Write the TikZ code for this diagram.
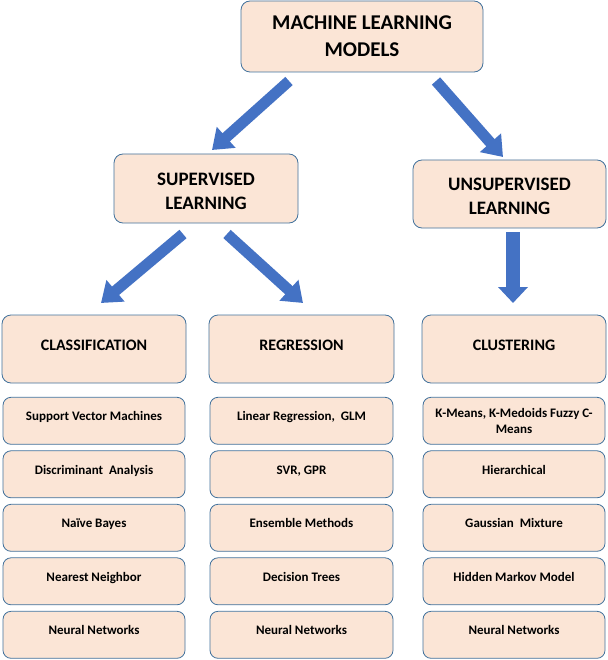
\documentclass[tikz,border=0pt]{standalone}
\usepackage{fontspec}
\setmainfont{Carlito}
\usetikzlibrary{positioning, arrows.meta}

\definecolor{boxfill}{HTML}{FBE5D6}
\definecolor{boxline}{HTML}{41719C}
\definecolor{arrowblue}{HTML}{4472C4}

\tikzset{
    box/.style={draw=boxline, fill=boxfill, line width=0.8pt, rounded corners=9pt, align=center, font=\bfseries, inner sep=2pt},
    cell/.style={box, rounded corners=8pt, minimum width=182pt, minimum height=47pt, font=\bfseries\fontsize{13}{16}\selectfont},
    item/.style={cell, text height=9pt, text depth=9pt},
    head/.style={box, minimum width=184pt, minimum height=68pt, text height=10.3pt, text depth=8pt, font=\bfseries\fontsize{16}{19}\selectfont},
    bigarrow/.style={draw=arrowblue, line width=11pt, -{Triangle[width=27pt, length=19pt]}, arrowblue}
}

\begin{document}
\begin{tikzpicture}[x=1pt, y=-1pt]
    \useasboundingbox (0,0) rectangle (607,660);

    % top level
    \node[box, minimum width=242pt, minimum height=71pt, font=\bfseries\fontsize{21}{27}\selectfont] (mlm) at (362, 36.5) {MACHINE LEARNING\\MODELS};

    % learning types
    \node[box, minimum width=184pt, minimum height=69pt, font=\bfseries\fontsize{19}{24}\selectfont] (sup) at (206, 188.5) {\rule{0pt}{19pt}SUPERVISED\\LEARNING};
    \node[box, minimum width=193pt, minimum height=68pt, font=\bfseries\fontsize{19}{24}\selectfont] (unsup) at (509.5, 194) {\rule{0pt}{17.5pt}UNSUPERVISED\\LEARNING};

    % task headers
    \node[head] (cls) at (94, 349) {CLASSIFICATION};
    \node[head, minimum width=185pt] (reg) at (301.5, 349) {REGRESSION};
    \node[head] (clu) at (514, 349) {CLUSTERING};

    % classification methods
    \node[item, below = 13.5pt of cls] (svm) {Support Vector Machines};
    \node[item, below = 5.7pt of svm] (da) {Discriminant~ Analysis};
    \node[item, below = 5.7pt of da] (nb) {Naïve Bayes};
    \node[item, below = 5.7pt of nb] (nn) {Nearest Neighbor};
    \node[item, below = 5.7pt of nn] (clsnet) {Neural Networks};

    % regression methods
    \node[item, minimum width=183pt, below = 13.5pt of reg] (lin) {Linear Regression,~ GLM};
    \node[item, minimum width=183pt, below = 5.7pt of lin] (svr) {SVR, GPR};
    \node[item, minimum width=183pt, below = 5.7pt of svr] (ens) {Ensemble Methods};
    \node[item, minimum width=183pt, below = 5.7pt of ens] (dt) {Decision Trees};
    \node[item, minimum width=183pt, below = 5.7pt of dt] (regnet) {Neural Networks};

    % clustering methods
    \node[cell, below = 13.5pt of clu] (km) {K-Means, K-Medoids Fuzzy C-\\Means};
    \node[item, below = 5.7pt of km] (hier) {Hierarchical};
    \node[item, below = 5.7pt of hier] (gm) {Gaussian~ Mixture};
    \node[item, below = 5.7pt of gm] (hmm) {Hidden Markov Model};
    \node[item, below = 5.7pt of hmm] (clunet) {Neural Networks};

    % arrow ends
    \coordinate (mlmL) at (289, 81);
    \coordinate (supT) at (212, 150);
    \coordinate (mlmR) at (436, 81);
    \coordinate (unsupT) at (503, 157);
    \coordinate (supL) at (183, 234);
    \coordinate (clsT) at (101, 303);
    \coordinate (supR) at (227, 234);
    \coordinate (regT) at (303, 303);
    \coordinate (unsupB) at (513, 232);
    \coordinate (cluT) at (513, 303);

    \draw[bigarrow] (mlmL) -- (supT);
    \draw[bigarrow] (mlmR) -- (unsupT);
    \draw[bigarrow] (supL) -- (clsT);
    \draw[bigarrow] (supR) -- (regT);
    \draw[bigarrow, line width=14pt, -{Triangle[width=29pt, length=16pt]}] (unsupB) -- (cluT);
\end{tikzpicture}
\end{document}
